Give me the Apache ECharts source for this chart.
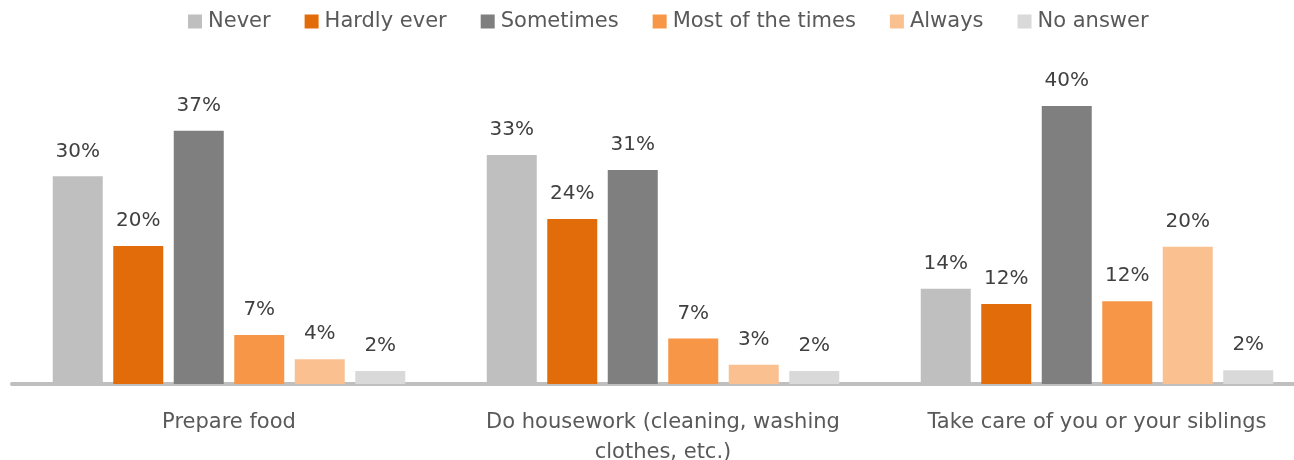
<!DOCTYPE html>
<html>
<head>
<meta charset="utf-8">
<script src="https://cdn.jsdelivr.net/npm/echarts@6/dist/echarts.min.js"></script>
<style>
html,body{margin:0;padding:0;background:#fff;}
#chart{width:1294px;height:460px;}
</style>
</head>
<body>
<div id="chart"></div>
<script>
var categories = ['Prepare food', 'Do housework (cleaning, washing\nclothes, etc.)', 'Take care of you or your siblings'];
var seriesNames = ['Never', 'Hardly ever', 'Sometimes', 'Most of the times', 'Always', 'No answer'];
var never = [30.1, 33.2, 13.8];
var hardlyEver = [20.0, 23.9, 11.6];
var sometimes = [36.7, 31.0, 40.3];
var mostOfTheTimes = [7.1, 6.6, 12.0];
var always = [3.6, 2.8, 19.9];
var noAnswer = [1.9, 1.9, 2.0];
var colors = ['#bfbfbf', '#e36c0a', '#7f7f7f', '#f79646', '#fac090', '#d9d9d9'];

var values = [never, hardlyEver, sometimes, mostOfTheTimes, always, noAnswer];
var FONT = 'DejaVu Sans';

var chart = echarts.init(document.getElementById('chart'), null, {renderer: 'canvas'});
chart.setOption({
  animation: false,
  backgroundColor: '#ffffff',
  color: colors,
  textStyle: {fontFamily: FONT},
  legend: {
    top: 6,
    left: 183,
    itemWidth: 14,
    itemHeight: 14,
    itemGap: 34,
    icon: 'rect',
    textStyle: {fontSize: 21, color: '#595959', fontFamily: FONT, padding: [0, 0, 0, 1]},
    data: seriesNames
  },
  grid: {left: 12, top: 73.5, width: 1302, bottom: 76, containLabel: false, outerBoundsMode: 'none'},
  xAxis: {
    type: 'category',
    data: categories,
    offset: 2,
    axisLine: {lineStyle: {color: '#bfbfbf', width: 4}},
    axisTick: {show: false},
    axisLabel: {fontSize: 21, color: '#595959', margin: 22, lineHeight: 30, fontFamily: FONT, interval: 0}
  },
  yAxis: {
    type: 'value',
    min: 0,
    max: 45,
    show: false,
    splitLine: {show: false}
  },
  series: seriesNames.map(function (name, i) {
    return {
      name: name,
      type: 'bar',
      data: values[i],
      barWidth: 50,
      barGap: '21%',
      itemStyle: {color: colors[i]},
      label: {
        show: true,
        position: 'top',
        distance: 15,
        fontSize: 20,
        color: '#404040',
        fontFamily: FONT,
        formatter: function (p) { return Math.round(p.value) + '%'; }
      }
    };
  })
});
</script>
</body>
</html>
